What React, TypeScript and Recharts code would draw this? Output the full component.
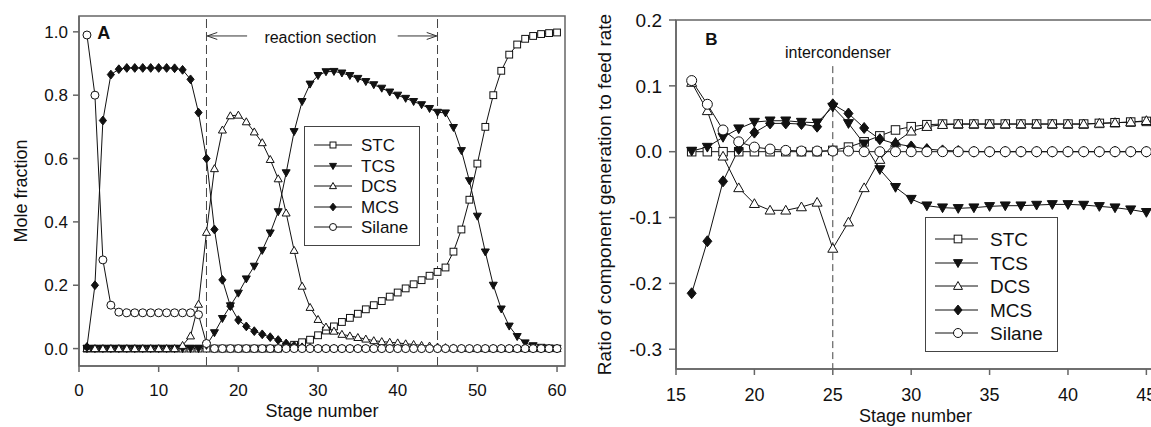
import React from "react";
import {
  Legend,
  Line,
  LineChart,
  ReferenceArea,
  ReferenceDot,
  ReferenceLine,
  XAxis,
  YAxis,
} from "recharts";

// panel A: mole fraction profile, stages 1..60
const stagesA = [
  1, 2, 3, 4, 5, 6, 7, 8, 9, 10, 11, 12, 13, 14, 15, 16, 17, 18, 19, 20,
  21, 22, 23, 24, 25, 26, 27, 28, 29, 30, 31, 32, 33, 34, 35, 36, 37, 38, 39, 40,
  41, 42, 43, 44, 45, 46, 47, 48, 49, 50, 51, 52, 53, 54, 55, 56, 57, 58, 59, 60,
];
const stcA = [
  0, 0, 0, 0, 0, 0, 0, 0, 0, 0, 0, 0, 0, 0, 0, 0, 0, 0, 0, 0, 0, 0, 0, 0, 0,
  0.005, 0.012, 0.02, 0.028, 0.042, 0.057, 0.07, 0.084, 0.097, 0.11,
  0.124, 0.137, 0.15, 0.164, 0.177, 0.19, 0.203, 0.216, 0.23, 0.242,
  0.256, 0.306, 0.376, 0.47, 0.584, 0.7, 0.8, 0.877, 0.928, 0.96,
  0.978, 0.987, 0.993, 0.996, 0.998,
];
const tcsA = [
  0, 0, 0, 0, 0, 0, 0, 0, 0, 0, 0, 0, 0, 0, 0,
  0.01, 0.05, 0.095, 0.135, 0.175, 0.22, 0.26, 0.31, 0.365, 0.432,
  0.555, 0.685, 0.78, 0.835, 0.862, 0.874, 0.875, 0.87, 0.862, 0.853,
  0.843, 0.833, 0.822, 0.81, 0.8, 0.79, 0.78, 0.77, 0.758, 0.746,
  0.744, 0.698, 0.625, 0.53, 0.418, 0.305, 0.2, 0.125, 0.071, 0.038,
  0.018, 0.009, 0.004, 0.002, 0.001,
];
const dcsA = [
  0, 0, 0, 0, 0, 0, 0, 0, 0, 0, 0, 0, 0.01, 0.04, 0.14,
  0.367, 0.568, 0.69, 0.735, 0.737, 0.716, 0.684, 0.65, 0.597, 0.536,
  0.428, 0.31, 0.197, 0.13, 0.092, 0.068, 0.055, 0.045, 0.04, 0.035,
  0.03, 0.025, 0.022, 0.02, 0.018, 0.015, 0.013, 0.01, 0.008, 0.005,
  0.003, 0.002, 0.001, 0, 0, 0, 0, 0, 0, 0, 0, 0, 0, 0, 0,
];
const mcsA = [
  0.005, 0.2, 0.72, 0.865, 0.882, 0.886, 0.886, 0.886, 0.886, 0.886,
  0.886, 0.885, 0.88, 0.85, 0.745, 0.6, 0.376, 0.217, 0.134, 0.09,
  0.07, 0.055, 0.045, 0.036, 0.027, 0.016, 0.009, 0.004, 0.002, 0,
  0, 0, 0, 0, 0, 0, 0, 0, 0, 0, 0, 0, 0, 0, 0, 0, 0, 0, 0, 0,
  0, 0, 0, 0, 0, 0, 0, 0, 0, 0,
];
const silaneA = [
  0.99, 0.8, 0.28, 0.137, 0.115, 0.113, 0.113, 0.113, 0.113, 0.113,
  0.113, 0.113, 0.113, 0.113, 0.107, 0.016, 0, 0, 0, 0,
  0, 0, 0, 0, 0, 0, 0, 0, 0, 0, 0, 0, 0, 0, 0, 0, 0, 0, 0, 0,
  0, 0, 0, 0, 0, 0, 0, 0, 0, 0, 0, 0, 0, 0, 0, 0, 0, 0, 0, 0,
];

// panel B: generation / feed rate, stages 16..45
const stagesB = [
  16, 17, 18, 19, 20, 21, 22, 23, 24, 25, 26, 27, 28, 29, 30,
  31, 32, 33, 34, 35, 36, 37, 38, 39, 40, 41, 42, 43, 44, 45,
];
const stcB = [
  0, 0, 0, 0, 0, 0, 0, 0, 0, 0.002, 0.007, 0.015, 0.024, 0.033, 0.038,
  0.041, 0.042, 0.042, 0.042, 0.042, 0.042, 0.042, 0.042, 0.042, 0.042,
  0.042, 0.043, 0.044, 0.045, 0.046,
];
const tcsB = [
  0.001, 0.007, 0.022, 0.035, 0.045, 0.047, 0.047, 0.045, 0.044, 0.068,
  0.043, 0.012, -0.027, -0.054, -0.072, -0.082, -0.085, -0.086, -0.085, -0.083,
  -0.082, -0.082, -0.081, -0.08, -0.08, -0.081, -0.083, -0.085, -0.088, -0.092,
];
const dcsB = [
  0.105, 0.062, -0.007, -0.055, -0.079, -0.089, -0.089, -0.084, -0.077, -0.147,
  -0.107, -0.055, -0.012, 0.014, 0.031, 0.038, 0.041, 0.042, 0.042, 0.042,
  0.042, 0.042, 0.042, 0.042, 0.042, 0.042, 0.043, 0.044, 0.045, 0.047,
];
const mcsB = [
  -0.215, -0.136, -0.045, 0.004, 0.029, 0.043, 0.043, 0.042, 0.038, 0.072,
  0.058, 0.036, 0.019, 0.012, 0.008, 0.004, 0.002, 0.001, 0, 0,
  0, 0, 0, 0, 0, 0, 0, 0, 0, 0,
];
const silaneB = [
  0.108, 0.072, 0.033, 0.015, 0.007, 0.004, 0.002, 0.001, 0.001, 0.001,
  0.001, 0, 0, 0, 0, 0, 0, 0, 0, 0, 0, 0, 0, 0, 0, 0, 0, 0, 0, 0,
];

const xTicksA = [0, 10, 20, 30, 40, 50, 60];
const yTicksA = [0, 0.2, 0.4, 0.6, 0.8, 1.0];
const xTicksB = [15, 20, 25, 30, 35, 40, 45];
const yTicksB = [-0.3, -0.2, -0.1, 0, 0.1, 0.2];

type Shape = "square" | "triDown" | "triUp" | "diamond" | "circle";

const SERIES: { key: string; shape: Shape }[] = [
  { key: "STC", shape: "square" },
  { key: "TCS", shape: "triDown" },
  { key: "DCS", shape: "triUp" },
  { key: "MCS", shape: "diamond" },
  { key: "Silane", shape: "circle" },
];

const dataA = stagesA.map((stage, i) => ({
  stage,
  STC: stcA[i],
  TCS: tcsA[i],
  DCS: dcsA[i],
  MCS: mcsA[i],
  Silane: silaneA[i],
}));

const dataB = stagesB.map((stage, i) => ({
  stage,
  STC: stcB[i],
  TCS: tcsB[i],
  DCS: dcsB[i],
  MCS: mcsB[i],
  Silane: silaneB[i],
}));

const INK = "#111";
const AXIS = "#666";

function Marker({ cx, cy, shape, s }: { cx: number; cy: number; shape: Shape; s: number }) {
  if (cx == null || cy == null) return null;
  const h = s / 2;
  const common = { stroke: INK, strokeWidth: 1 };
  switch (shape) {
    case "square":
      return <rect x={cx - h * 0.85} y={cy - h * 0.85} width={s * 0.85} height={s * 0.85} fill="#fff" {...common} />;
    case "triDown":
      return <polygon points={`${cx - h},${cy - h * 0.75} ${cx + h},${cy - h * 0.75} ${cx},${cy + h}`} fill={INK} {...common} />;
    case "triUp":
      return <polygon points={`${cx - h},${cy + h * 0.75} ${cx + h},${cy + h * 0.75} ${cx},${cy - h}`} fill="#fff" {...common} />;
    case "diamond":
      return <polygon points={`${cx},${cy - h * 1.1} ${cx + h * 0.9},${cy} ${cx},${cy + h * 1.1} ${cx - h * 0.9},${cy}`} fill={INK} {...common} />;
    default:
      return <circle cx={cx} cy={cy} r={h} fill="#fff" {...common} />;
  }
}

function LegendBox({
  width, height, rowTop, rowStep, lineW, markX, textX, fontSize, s,
}: {
  width: number; height: number; rowTop: number; rowStep: number;
  lineW: number; markX: number; textX: number; fontSize: number; s: number;
}) {
  return (
    <div
      style={{
        position: "relative",
        width,
        height,
        boxSizing: "border-box",
        border: "1px solid #444",
        background: "#fff",
        fontSize,
        color: INK,
      }}
    >
      {SERIES.map((ser, i) => (
        <div key={ser.key} style={{ position: "absolute", left: 0, top: rowTop + i * rowStep - 10, height: 20, width: "100%" }}>
          <svg width={lineW + 10} height={20} style={{ position: "absolute", left: 0, top: 0 }}>
            <line x1={9} x2={lineW + 9} y1={10} y2={10} stroke={INK} strokeWidth={1} />
            <Marker cx={markX} cy={10} shape={ser.shape} s={s} />
          </svg>
          <span style={{ position: "absolute", left: textX, top: 10, transform: "translateY(-50%)", lineHeight: 1 }}>
            {ser.key}
          </span>
        </div>
      ))}
    </div>
  );
}

function Arrow(props: any) {
  const { x1, y1, x2, y2 } = props;
  const dir = x2 > x1 ? 1 : -1;
  return (
    <g stroke="#333" strokeWidth={1} fill="none">
      <line x1={x1} y1={y1} x2={x2} y2={y2} />
      <polyline points={`${x2 - dir * 10},${y2 - 3.5} ${x2},${y2} ${x2 - dir * 10},${y2 + 3.5}`} />
    </g>
  );
}

export default function App() {
  return (
    <div
      style={{
        position: "absolute",
        left: 0,
        top: 0,
        width: 1151,
        height: 427,
        overflow: "hidden",
        background: "#fff",
        fontFamily: "'Liberation Sans', Arial, sans-serif",
      }}
    >
      {/* panel A */}
      <div style={{ position: "absolute", left: 0, top: 0 }}>
        <LineChart width={600} height={427} data={dataA} margin={{ top: 16, right: 35, bottom: 6, left: 19 }}>
          <ReferenceArea x1={0} x2={61} y1={-0.055} y2={1.05} fill="none" stroke={AXIS} strokeWidth={1.5} />
          <XAxis
            dataKey="stage"
            type="number"
            domain={[0, 61]}
            ticks={xTicksA}
            allowDataOverflow
            height={55}
            tickSize={6}
            tickMargin={12}
            stroke={AXIS}
            strokeWidth={1.5}
            tick={{ fill: INK, fontSize: 17 }}
            label={{ value: "Stage number", position: "insideBottom", offset: 4, fill: INK, fontSize: 18 }}
          />
          <YAxis
            type="number"
            domain={[-0.055, 1.05]}
            ticks={yTicksA}
            allowDataOverflow
            width={60}
            tickSize={6}
            tickMargin={5}
            stroke={AXIS}
            strokeWidth={1.5}
            tickFormatter={(v: number) => v.toFixed(1)}
            tick={{ fill: INK, fontSize: 17 }}
            label={{
              value: "Mole fraction",
              angle: -90,
              position: "insideLeft",
              offset: 2,
              fill: INK,
              fontSize: 18,
              style: { textAnchor: "middle" },
            }}
          />
          <ReferenceLine x={16} stroke="#444" strokeDasharray="9 4" />
          <ReferenceLine x={45} stroke="#444" strokeDasharray="9 4" />
          <ReferenceLine segment={[{ x: 21.1, y: 0.987 }, { x: 16.1, y: 0.987 }]} shape={Arrow} />
          <ReferenceLine segment={[{ x: 40, y: 0.987 }, { x: 44.9, y: 0.987 }]} shape={Arrow} />
          <ReferenceDot
            x={30.3}
            y={0.982}
            r={0}
            stroke="none"
            label={{ value: "reaction section", position: "center", fill: INK, fontSize: 16 }}
          />
          <ReferenceDot
            x={3.1}
            y={0.998}
            r={0}
            stroke="none"
            label={{ value: "A", position: "center", fill: INK, fontSize: 18, fontWeight: 700 }}
          />
          {SERIES.map((ser) => (
            <Line
              key={ser.key}
              type="linear"
              dataKey={ser.key}
              stroke={INK}
              strokeWidth={1}
              isAnimationActive={false}
              activeDot={false}
              dot={(p: any) => <Marker key={`A-${ser.key}-${p.index}`} cx={p.cx} cy={p.cy} shape={ser.shape} s={8} />}
            />
          ))}
          <Legend
            layout="vertical"
            align="center"
            verticalAlign="middle"
            wrapperStyle={{ left: 304, top: 126, width: 116, height: 120 }}
            content={() => (
              <LegendBox width={116} height={120} rowTop={18} rowStep={20.5} lineW={38} markX={28} textX={56} fontSize={17} s={7} />
            )}
          />
        </LineChart>
      </div>

      {/* panel B */}
      <div style={{ position: "absolute", left: 540, top: 0 }}>
        <LineChart width={640} height={427} data={dataB} margin={{ top: 20, right: 25, bottom: 3, left: 66 }}>
          <ReferenceArea x1={15} x2={45.55} y1={-0.33} y2={0.2} fill="none" stroke={AXIS} strokeWidth={1.5} />
          <XAxis
            dataKey="stage"
            type="number"
            domain={[15, 45.55]}
            ticks={xTicksB}
            allowDataOverflow
            height={55}
            tickSize={6}
            tickMargin={13}
            stroke={AXIS}
            strokeWidth={1.5}
            tick={{ fill: INK, fontSize: 18 }}
            label={{ value: "Stage number", position: "insideBottom", offset: 2, fill: INK, fontSize: 18 }}
          />
          <YAxis
            type="number"
            domain={[-0.33, 0.2]}
            ticks={yTicksB}
            allowDataOverflow
            width={70}
            tickSize={7}
            tickMargin={7}
            stroke={AXIS}
            strokeWidth={1.5}
            tickFormatter={(v: number) => v.toFixed(1)}
            tick={{ fill: INK, fontSize: 19 }}
            label={{
              value: "Ratio of component generation to feed rate",
              angle: -90,
              position: "insideLeft",
              offset: -2,
              fill: INK,
              fontSize: 19,
              style: { textAnchor: "middle" },
            }}
          />
          <ReferenceLine segment={[{ x: 25, y: 0.13 }, { x: 25, y: -0.33 }]} stroke="#444" strokeDasharray="7 4" />
          <ReferenceDot
            x={25.33}
            y={0.151}
            r={0}
            stroke="none"
            label={{ value: "intercondenser", position: "center", fill: INK, fontSize: 16 }}
          />
          <ReferenceDot
            x={17.25}
            y={0.171}
            r={0}
            stroke="none"
            label={{ value: "B", position: "center", fill: INK, fontSize: 17, fontWeight: 700 }}
          />
          {SERIES.map((ser) => (
            <Line
              key={ser.key}
              type="linear"
              dataKey={ser.key}
              stroke={INK}
              strokeWidth={1}
              isAnimationActive={false}
              activeDot={false}
              dot={(p: any) => <Marker key={`B-${ser.key}-${p.index}`} cx={p.cx} cy={p.cy} shape={ser.shape} s={10} />}
            />
          ))}
          <Legend
            layout="vertical"
            align="center"
            verticalAlign="middle"
            wrapperStyle={{ left: 385, top: 217, width: 133, height: 135 }}
            content={() => (
              <LegendBox width={133} height={135} rowTop={21} rowStep={23.5} lineW={43} markX={32} textX={64} fontSize={19} s={9} />
            )}
          />
        </LineChart>
      </div>
    </div>
  );
}
